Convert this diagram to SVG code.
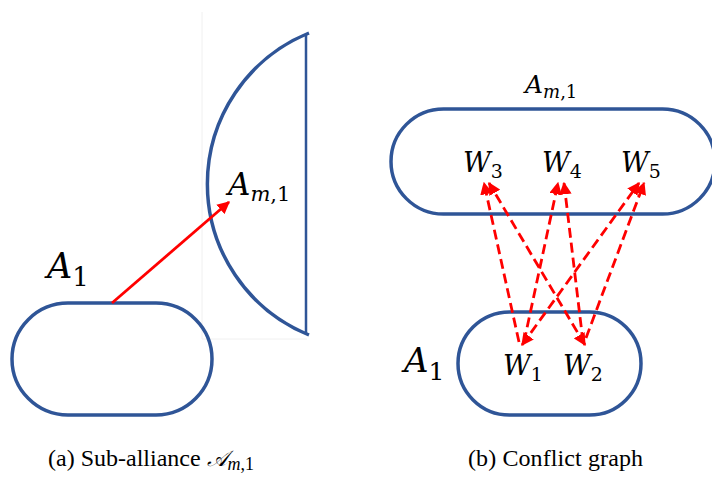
<svg xmlns="http://www.w3.org/2000/svg" width="712" height="477" viewBox="0 0 712 477">
<style>
.shape{fill:none;stroke:#2f5597;stroke-width:3.5}
.math{font-family:"DejaVu Serif","Liberation Serif",serif;fill:#000}
.it{font-style:italic}
.solid{stroke:#ff0000;stroke-width:2.8;fill:none}
.dash{stroke:#ff0000;stroke-width:2.8;fill:none;stroke-dasharray:10 5}
.cap{font-family:"Liberation Serif","Times New Roman",serif;font-size:24px;fill:#000}
</style>
<defs>
<marker id="ah" viewBox="0 0 10 10" refX="9" refY="5" markerWidth="4.5" markerHeight="4.5" orient="auto" markerUnits="strokeWidth">
<path d="M0,0 L10,5 L0,10 z" fill="#ff0000"/>
</marker>
<marker id="ahs" viewBox="0 0 10 10" refX="9" refY="5" markerWidth="4.5" markerHeight="4.5" orient="auto-start-reverse" markerUnits="strokeWidth">
<path d="M0,0 L10,5 L0,10 z" fill="#ff0000"/>
</marker>
</defs>
<rect width="712" height="477" fill="#fff"/>
<path d="M202,12 V339 H307" fill="none" stroke="#f0f0f0" stroke-width="1"/>

<g id="left-A1">
<rect class="shape" x="12" y="303" width="200" height="112" rx="56" ry="56"/>
<text class="math it" x="47" y="278" font-size="35">A<tspan class="math" font-style="normal" font-size="26" dy="8">1</tspan></text>
</g>

<g id="left-Am1">
<path class="shape" d="M309,33 A163,163 0 0 0 309,335"/>
<line x1="306" y1="34" x2="306" y2="334" stroke="#2f5597" stroke-width="2.5"/>
<text class="math it" x="228" y="195" font-size="31">A<tspan font-size="21" dy="6">m</tspan><tspan font-style="normal" font-size="21">,1</tspan></text>
</g>

<g id="right-Am1">
<rect class="shape" x="391" y="109" width="324" height="105" rx="52.5" ry="52.5"/>
<text class="math it" x="525" y="93" font-size="25">A<tspan font-size="18" dy="5">m</tspan><tspan font-style="normal" font-size="18">,1</tspan></text>
<text class="math it" x="463" y="172" font-size="27">W<tspan font-style="normal" font-size="19" dy="6">3</tspan></text>
<text class="math it" x="542" y="172" font-size="27">W<tspan font-style="normal" font-size="19" dy="6">4</tspan></text>
<text class="math it" x="621" y="172" font-size="27">W<tspan font-style="normal" font-size="19" dy="6">5</tspan></text>
</g>

<g id="right-A1">
<rect class="shape" x="458" y="312" width="183" height="103" rx="51.5" ry="51.5"/>
<text class="math it" x="404" y="372" font-size="34">A<tspan font-style="normal" font-size="25" dy="8">1</tspan></text>
<text class="math it" x="503" y="375" font-size="27">W<tspan font-style="normal" font-size="19" dy="6">1</tspan></text>
<text class="math it" x="563" y="375" font-size="27">W<tspan font-style="normal" font-size="19" dy="6">2</tspan></text>
</g>

<g id="connectors">
<line class="solid" x1="112" y1="303" x2="229" y2="202" marker-end="url(#ah)"/>
<line class="dash" x1="519" y1="342" x2="484" y2="183" marker-end="url(#ah)"/>
<line class="dash" x1="524" y1="342" x2="558" y2="183" marker-end="url(#ah)"/>
<line class="dash" x1="522" y1="345" x2="639" y2="183" marker-start="url(#ahs)" marker-end="url(#ah)"/>
<line class="dash" x1="585" y1="345" x2="489" y2="183" marker-start="url(#ahs)" marker-end="url(#ah)"/>
<line class="dash" x1="583" y1="342" x2="564" y2="183" marker-end="url(#ah)"/>
<line class="dash" x1="586" y1="338" x2="644" y2="183" marker-end="url(#ah)"/>
</g>

<g id="captions">
<text class="cap" x="48" y="466">(a)  Sub-alliance <tspan font-family="'DejaVu Serif',serif" font-style="italic" font-size="22">𝒜</tspan><tspan font-style="italic" font-size="18" dy="4">m</tspan><tspan font-size="18">,1</tspan></text>
<text class="cap" x="468" y="466" textLength="175" lengthAdjust="spacing">(b)  Conflict graph</text>
</g>
</svg>
